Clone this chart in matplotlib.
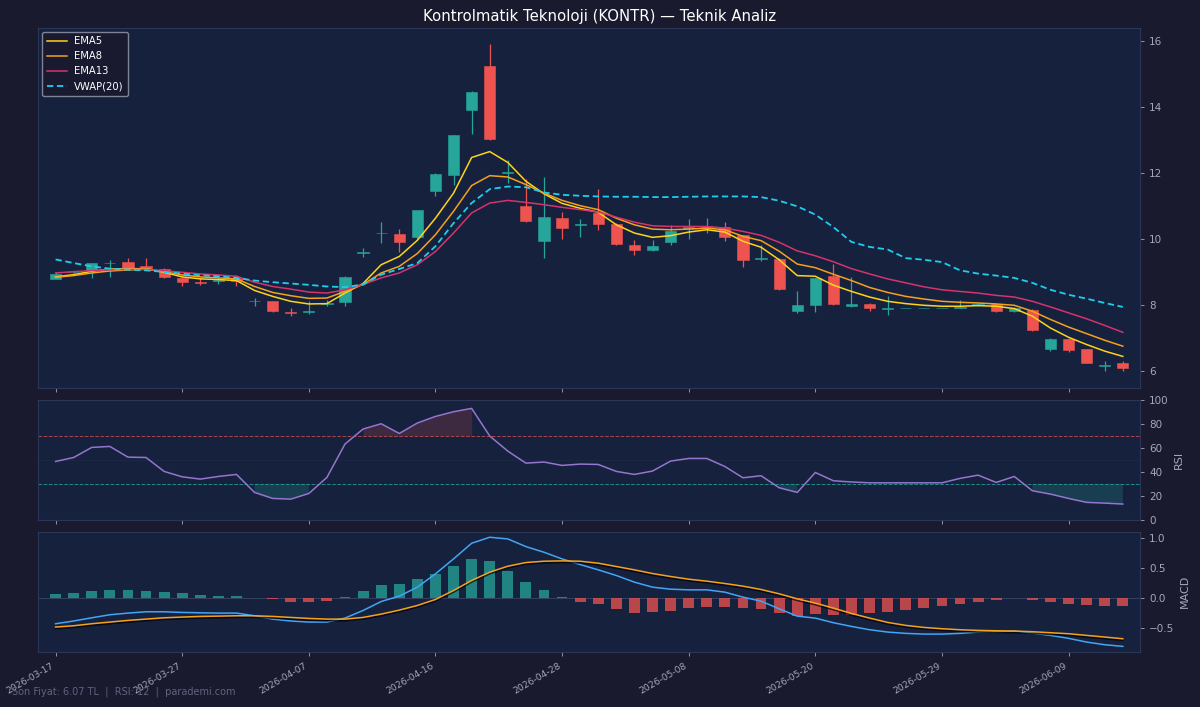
"""Kontrolmatik (KONTR) technical analysis chart: candles + EMA/VWAP, RSI, MACD."""

import matplotlib
matplotlib.use("Agg")
import matplotlib.pyplot as plt
import matplotlib.patheffects as pe
import numpy as np

BG = "#1a1a2e"
PANEL = "#16213e"
UP = "#26a69a"
DOWN = "#ef5350"
TXT = "#a3a8bd"

# ---- data (one value per trading day) ----
opens = [8.79, 8.98, 9.06, 9.26, 9.28, 9.16, 9.09, 8.82, 8.68, 8.73,
         8.80, 8.10, 8.10, 7.77, 7.79, 8.03, 8.09, 9.58, 10.16, 10.15,
         10.05, 11.43, 11.92, 13.90, 15.22, 12.00, 11.00, 9.92, 10.63, 10.40,
         10.79, 10.45, 9.82, 9.65, 9.91, 10.31, 10.35, 10.36, 10.10, 9.37,
         9.39, 7.80, 8.00, 8.88, 7.95, 8.03, 7.88, 7.90, 7.90, 7.90,
         7.90, 7.98, 8.03, 7.80, 7.85, 6.64, 6.96, 6.64, 6.14, 6.23]
highs = [9.00, 9.02, 9.27, 9.36, 9.42, 9.42, 9.12, 8.83, 8.80, 8.84,
         8.90, 8.20, 8.12, 7.90, 8.10, 8.15, 8.87, 9.73, 10.50, 10.30,
         10.88, 11.98, 13.15, 14.48, 15.90, 12.40, 11.80, 11.88, 10.82, 10.60,
         11.50, 10.47, 9.97, 9.97, 10.40, 10.60, 10.64, 10.49, 10.12, 9.82,
         9.40, 8.40, 8.82, 9.24, 8.85, 8.06, 8.27, 7.90, 7.90, 7.90,
         8.15, 8.05, 8.05, 7.92, 7.87, 7.00, 6.98, 6.66, 6.28, 6.30]
lows = [8.78, 8.97, 8.80, 8.85, 9.10, 9.08, 8.82, 8.55, 8.60, 8.62,
        8.55, 7.97, 7.78, 7.65, 7.73, 7.95, 7.96, 9.45, 9.88, 9.60,
        10.00, 11.28, 11.64, 13.18, 12.98, 11.70, 10.50, 9.41, 10.00, 10.05,
        10.27, 9.82, 9.50, 9.62, 9.82, 10.00, 10.18, 9.92, 9.13, 9.31,
        8.45, 7.76, 7.78, 8.00, 7.93, 7.80, 7.70, 7.90, 7.90, 7.90,
        7.90, 7.95, 7.77, 7.78, 7.20, 6.58, 6.55, 6.22, 6.00, 6.00]
closes = [8.94, 9.00, 9.25, 9.27, 9.12, 9.09, 8.83, 8.68, 8.66, 8.75,
          8.72, 8.12, 7.80, 7.75, 7.81, 8.06, 8.85, 9.60, 10.18, 9.89,
          10.86, 11.96, 13.13, 14.46, 13.02, 12.02, 10.55, 10.65, 10.31, 10.43,
          10.45, 9.85, 9.65, 9.79, 10.24, 10.36, 10.38, 10.04, 9.34, 9.42,
          8.48, 8.00, 8.80, 8.03, 8.03, 7.90, 7.90, 7.90, 7.90, 7.90,
          7.93, 8.02, 7.80, 7.90, 7.24, 6.96, 6.63, 6.23, 6.16, 6.07]

ema5 = [8.84, 8.91, 9.01, 9.08, 9.09, 9.09, 8.98, 8.84, 8.78, 8.76,
        8.73, 8.43, 8.25, 8.10, 8.02, 8.03, 8.35, 8.64, 9.21, 9.46,
        9.95, 10.62, 11.38, 12.46, 12.64, 12.31, 11.74, 11.36, 11.07, 10.92,
        10.80, 10.42, 10.17, 10.04, 10.09, 10.20, 10.27, 10.20, 9.92, 9.74,
        9.36, 8.88, 8.86, 8.59, 8.40, 8.23, 8.10, 8.03, 7.98, 7.95,
        7.95, 7.97, 7.95, 7.88, 7.65, 7.29, 7.01, 6.79, 6.59, 6.43]
ema8 = [8.83, 8.88, 8.96, 9.02, 9.05, 9.07, 9.00, 8.90, 8.84, 8.81,
        8.78, 8.55, 8.37, 8.27, 8.19, 8.20, 8.40, 8.61, 8.96, 9.16,
        9.55, 10.12, 10.83, 11.61, 11.91, 11.87, 11.64, 11.38, 11.16, 11.00,
        10.88, 10.62, 10.42, 10.29, 10.27, 10.29, 10.32, 10.27, 10.07, 9.94,
        9.62, 9.23, 9.12, 8.92, 8.73, 8.52, 8.37, 8.25, 8.17, 8.10,
        8.07, 8.05, 8.02, 7.98, 7.80, 7.55, 7.32, 7.12, 6.92, 6.74]
ema13 = [8.96, 9.00, 9.03, 9.06, 9.07, 9.07, 9.03, 8.98, 8.93, 8.90,
         8.86, 8.68, 8.55, 8.47, 8.38, 8.35, 8.45, 8.61, 8.81, 8.96,
         9.21, 9.61, 10.17, 10.78, 11.08, 11.16, 11.10, 11.03, 10.95, 10.88,
         10.81, 10.65, 10.50, 10.39, 10.37, 10.37, 10.37, 10.32, 10.22, 10.10,
         9.89, 9.63, 9.48, 9.30, 9.09, 8.93, 8.78, 8.66, 8.54, 8.45,
         8.40, 8.35, 8.28, 8.23, 8.10, 7.93, 7.75, 7.57, 7.37, 7.16]
vwap20 = [9.37, 9.26, 9.16, 9.09, 9.06, 9.04, 8.99, 8.94, 8.89, 8.86,
          8.81, 8.73, 8.68, 8.64, 8.60, 8.55, 8.53, 8.61, 8.91, 9.08,
          9.26, 9.77, 10.47, 11.08, 11.50, 11.58, 11.56, 11.40, 11.33, 11.30,
          11.28, 11.27, 11.27, 11.26, 11.26, 11.27, 11.28, 11.28, 11.28, 11.26,
          11.15, 10.98, 10.73, 10.35, 9.90, 9.75, 9.67, 9.41, 9.36, 9.29,
          9.04, 8.94, 8.88, 8.81, 8.66, 8.45, 8.30, 8.18, 8.05, 7.93]

rsi = [48.6, 51.9, 60.3, 61.1, 52.2, 51.9, 40.3, 35.8, 33.9, 36.1,
       37.8, 22.8, 17.8, 17.2, 21.9, 35.3, 63.1, 75.6, 80.0, 71.9,
       80.6, 86.1, 90.0, 92.8, 69.8, 57.2, 47.2, 48.1, 45.3, 46.4,
       46.1, 40.3, 37.8, 40.6, 48.9, 51.1, 51.1, 44.4, 35.0, 36.7,
       26.7, 22.8, 39.4, 32.5, 31.5, 30.8, 30.8, 30.8, 30.8, 30.8,
       34.5, 37.2, 31.1, 36.1, 24.2, 21.4, 17.8, 14.5, 13.9, 13.1]

macd = [-0.436, -0.390, -0.336, -0.285, -0.257, -0.235, -0.235, -0.246, -0.252, -0.257,
        -0.257, -0.302, -0.358, -0.390, -0.408, -0.408, -0.341, -0.213, -0.062, 0.028,
        0.179, 0.403, 0.654, 0.917, 1.018, 0.990, 0.861, 0.766, 0.654, 0.559,
        0.470, 0.375, 0.263, 0.179, 0.145, 0.134, 0.134, 0.095, 0.011, -0.056,
        -0.185, -0.308, -0.341, -0.419, -0.481, -0.537, -0.576, -0.598, -0.610, -0.610,
        -0.598, -0.576, -0.570, -0.559, -0.593, -0.632, -0.682, -0.744, -0.789, -0.817]
signal = [-0.492, -0.470, -0.436, -0.408, -0.380, -0.358, -0.336, -0.324, -0.313, -0.308,
          -0.302, -0.302, -0.313, -0.330, -0.347, -0.358, -0.358, -0.330, -0.274, -0.207,
          -0.129, -0.028, 0.123, 0.291, 0.431, 0.531, 0.593, 0.615, 0.621, 0.615,
          0.582, 0.526, 0.470, 0.408, 0.358, 0.313, 0.280, 0.240, 0.196, 0.140,
          0.067, -0.017, -0.089, -0.173, -0.263, -0.341, -0.414, -0.464, -0.498, -0.520,
          -0.537, -0.548, -0.554, -0.559, -0.570, -0.587, -0.604, -0.632, -0.660, -0.688]
hist = [0.056, 0.073, 0.117, 0.129, 0.129, 0.117, 0.100, 0.073, 0.045, 0.028,
        0.028, -0.004, -0.028, -0.067, -0.067, -0.056, 0.010, 0.117, 0.213, 0.240,
        0.308, 0.408, 0.531, 0.654, 0.615, 0.459, 0.263, 0.129, 0.017, -0.067,
        -0.112, -0.185, -0.252, -0.246, -0.224, -0.179, -0.157, -0.157, -0.179, -0.196,
        -0.257, -0.308, -0.280, -0.296, -0.285, -0.260, -0.240, -0.200, -0.170, -0.140,
        -0.110, -0.075, -0.040, -0.010, -0.030, -0.070, -0.100, -0.125, -0.140, -0.140]

tick_labels = ["2026-03-17", "2026-03-27", "2026-04-07", "2026-04-16", "2026-04-28",
               "2026-05-08", "2026-05-20", "2026-05-29", "2026-06-09"]

footer = "Son Fiyat: 6.07 TL  |  RSI: 12  |  parademi.com"


def style_axis(ax):
    ax.set_facecolor(PANEL)
    for sp in ax.spines.values():
        sp.set_color("#2b3556")
        sp.set_linewidth(0.8)
    ax.yaxis.tick_right()
    ax.yaxis.set_label_position("right")
    ax.tick_params(colors=TXT, labelsize=7.5, length=3, width=0.6)


def draw_candles(ax, x):
    o, h, l, c = map(np.asarray, (opens, highs, lows, closes))
    colors = np.where(c >= o, UP, DOWN)
    ax.vlines(x, l, h, colors=colors, linewidth=0.9, zorder=2)
    body = np.maximum(np.abs(c - o), 0.012)
    ax.bar(x, body, bottom=np.minimum(o, c), width=0.62, color=colors,
           edgecolor=colors, linewidth=0.4, zorder=3)


def main():
    x = np.arange(len(closes))
    fig = plt.figure(figsize=(12, 7.07), dpi=100, facecolor=BG)
    gs = fig.add_gridspec(3, 1, height_ratios=[3, 1, 1], left=0.032, right=0.95,
                          top=0.961, bottom=0.078, hspace=0.06)
    ax = fig.add_subplot(gs[0])
    ax_rsi = fig.add_subplot(gs[1], sharex=ax)
    ax_macd = fig.add_subplot(gs[2], sharex=ax)
    for a in (ax, ax_rsi, ax_macd):
        style_axis(a)

    # price panel
    draw_candles(ax, x)
    ax.plot(x, ema5, color="#ffd31a", lw=1.1, label="EMA5", zorder=4)
    ax.plot(x, ema8, color="#f5a11c", lw=1.1, label="EMA8", zorder=4)
    ax.plot(x, ema13, color="#d6336c", lw=1.1, label="EMA13", zorder=4)
    ax.plot(x, vwap20, color="#1ccfee", lw=1.3, ls=(0, (3.5, 2)),
            label="VWAP(20)", zorder=4)
    ax.set_ylim(5.48, 16.4)
    ax.set_yticks([6, 8, 10, 12, 14, 16])
    leg = ax.legend(loc="upper left", fontsize=7.2, facecolor=BG,
                    edgecolor="#8a8fa3", framealpha=0.9, borderpad=0.45,
                    handlelength=2.0, handletextpad=0.7, labelspacing=0.5,
                    borderaxespad=0.4)
    for t in leg.get_texts():
        t.set_color("white")
    ax.tick_params(labelbottom=False)

    # RSI panel
    r = np.asarray(rsi)
    ax_rsi.plot(x, r, color="#9575cd", lw=1.1, zorder=3)
    ax_rsi.axhline(70, color=DOWN, ls="--", lw=0.7, alpha=0.7)
    ax_rsi.axhline(30, color=UP, ls="--", lw=0.7, alpha=0.8)
    ax_rsi.axhline(50, color="#26304f", lw=0.5, alpha=0.5)
    ax_rsi.fill_between(x, r, 70, where=r > 70, color=DOWN, alpha=0.18, lw=0)
    ax_rsi.fill_between(x, r, 30, where=r < 30, color=UP, alpha=0.22, lw=0)
    ax_rsi.set_ylim(0, 100)
    ax_rsi.set_yticks([0, 20, 40, 60, 80, 100])
    ax_rsi.set_ylabel("RSI", color=TXT, fontsize=8)
    ax_rsi.tick_params(labelbottom=False)

    # MACD panel
    hv = np.asarray(hist)
    ax_macd.bar(x, hv, width=0.6, color=np.where(hv >= 0, UP, DOWN),
                alpha=0.75, zorder=2)
    ax_macd.axhline(0, color="#3a4568", lw=0.6, zorder=1)
    ax_macd.plot(x, macd, color="#42a5f5", lw=1.1, zorder=3)
    ax_macd.plot(x, signal, color="#f5a11c", lw=1.1, zorder=3,
                 path_effects=[pe.SimpleLineShadow(offset=(0, -1.2), alpha=0.7,
                                                   shadow_color="black"),
                               pe.Normal()])
    ax_macd.set_yticks([-0.5, 0.0, 0.5, 1.0])
    ax_macd.set_ylabel("MACD", color=TXT, fontsize=8)

    ax_macd.set_xlim(-0.95, len(closes) - 0.05)
    ax_macd.set_xticks(x[::7][:len(tick_labels)])
    ax_macd.set_xticklabels(tick_labels, rotation=30, ha="right", fontsize=6.6)

    fig.text(0.5, 0.976, "Kontrolmatik Teknoloji (KONTR) — Teknik Analiz",
             ha="center", va="center", color="white", fontsize=10.7)
    fig.text(0.01, 0.021, footer, ha="left", va="center", color="#5f6480",
             fontsize=7)

    fig.savefig("out.png", dpi=100, facecolor=BG)


if __name__ == "__main__":
    main()
